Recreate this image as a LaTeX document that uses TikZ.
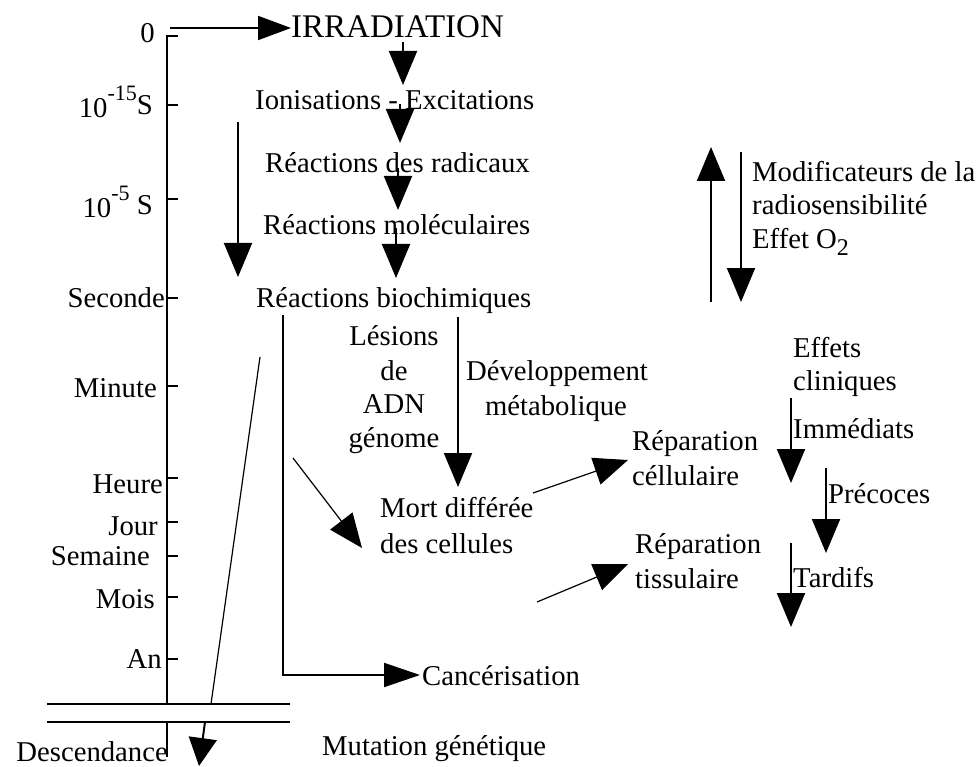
\documentclass[tikz,border=0pt]{standalone}
\usepackage{fontspec}
\setmainfont{Liberation Serif}
\usetikzlibrary{arrows.meta}
\newcommand{\supsm}[1]{\raisebox{17pt}{\fontsize{22}{22}\selectfont #1}}
\begin{document}
\begin{tikzpicture}[x=1pt,y=-1pt,
  lbl/.style={inner sep=0pt, font=\fontsize{28.7}{34}\selectfont},
  lw/.style={lbl, anchor=base west},
  le/.style={lbl, anchor=base east},
  lc/.style={lbl, anchor=base},
  ln/.style={line width=2pt},
  diagline/.style={line width=1.2pt},
  arr/.style={-{Triangle[length=34pt,width=28pt]}, line width=2pt},
  tarr/.style={-{Triangle[length=34pt,width=28pt]}, line width=1.2pt},
]
\useasboundingbox (0,0) rectangle (979,767);

% time axis
\draw[ln] (178,36) -- (167,36) -- (167,704);
\foreach \t in {105,199,298,386,478,522,556,597,659}
  \draw[ln] (167,\t) -- (178,\t);
\draw[ln] (47,704) -- (290,704);
\draw[ln] (47,722) -- (290,722);
\draw[ln] (167,722) -- (167,757);

% axis labels
\node[le] (t0) at (155,43) {0};
\node[le] (t15) at (153,118) {10\supsm{-15}\raisebox{3pt}{S}};
\node[le] (t5) at (153,218) {10\supsm{-5} \raisebox{3pt}{S}};
\node[le] (tsec) at (165,307) {Seconde};
\node[le] (tmin) at (157,397) {Minute};
\node[le] (th) at (163,493) {Heure};
\node[le] (tj) at (158,535) {Jour};
\node[le] (tsem) at (150,565) {Semaine};
\node[le] (tmois) at (155,608) {Mois};
\node[le] (tan) at (162,668) {An};
\node[le] (tdesc) at (168,761) {Descendance};

% main column
\node[lw, font=\fontsize{33}{38}\selectfont] (irr) at (291,38) {IRRADIATION};
\node[lw] (ion) at (255,110) {Ionisations - Excitations};
\node[lw] (rad) at (265,173) {Réactions des radicaux};
\node[lw] (mol) at (263,235) {Réactions moléculaires};
\node[lw] (bio) at (256,307) {Réactions biochimiques};

\node[lc] (les1) at (394,345) {Lésions};
\node[lc] (les2) at (394,380) {de};
\node[lc] (les3) at (394,413) {ADN};
\node[lc] (les4) at (394,447) {génome};
\node[lc] (dev1) at (557,380) {Développement};
\node[lc] (dev2) at (556,415) {métabolique};

\node[lw] (mort1) at (380,517) {Mort différée};
\node[lw] (mort2) at (380,553) {des cellules};
\node[lw] (repc1) at (632,450) {Réparation};
\node[lw] (repc2) at (632,485) {céllulaire};
\node[lw] (rept1) at (635,553) {Réparation};
\node[lw] (rept2) at (635,588) {tissulaire};

\node[lw] (eff1) at (793,357) {Effets};
\node[lw] (eff2) at (793,390) {cliniques};
\node[lw] (imm) at (793,438) {Immédiats};
\node[lw] (prec) at (828,503) {Précoces};
\node[lw] (tard) at (793,587) {Tardifs};

\node[lw] (mod1) at (752,182) {Modificateurs de la};
\node[lw] (mod2) at (752,215) {radiosensibilité};
\node[lw] (mod3) at (752,248) {Effet O\raisebox{-7pt}{\fontsize{24}{24}\selectfont 2}};

\node[lw] (canc) at (422,685) {Cancérisation};
\node[lw] (mut) at (322,755) {Mutation génétique};

% connector end points
\coordinate (a1s) at (170,28);  \coordinate (a1e) at (291,28);
\coordinate (a2s) at (403,42);  \coordinate (a2e) at (403,85);
\coordinate (a3s) at (400,104); \coordinate (a3e) at (400,143);
\coordinate (a4s) at (398,168); \coordinate (a4e) at (398,210);
\coordinate (a5s) at (396,228); \coordinate (a5e) at (396,278);
\coordinate (a6s) at (238,122); \coordinate (a6e) at (238,277);
\coordinate (a7s) at (458,317); \coordinate (a7e) at (458,487);
\coordinate (a8s) at (283,315); \coordinate (a8e) at (420,675);
\coordinate (a9s) at (293,458); \coordinate (a9e) at (362,548);
\coordinate (a10s) at (533,493); \coordinate (a10e) at (628,460);
\coordinate (a11s) at (537,602); \coordinate (a11e) at (628,564);
\coordinate (a12s) at (791,398); \coordinate (a12e) at (791,483);
\coordinate (a13s) at (826,468); \coordinate (a13e) at (826,553);
\coordinate (a14s) at (791,543); \coordinate (a14e) at (791,627);
\coordinate (a15s) at (711,302); \coordinate (a15e) at (711,147);
\coordinate (a16s) at (741,152); \coordinate (a16e) at (741,302);
\coordinate (d1s) at (260,357);  \coordinate (d1e) at (211,704);
\coordinate (d2s) at (205,722);  \coordinate (d2e) at (199,766);

% connectors
\draw[arr, -{Triangle[length=33pt,width=24pt]}] (a1s) -- (a1e);
\draw[arr] (a2s) -- (a2e);
\draw[arr] (a3s) -- (a3e);
\draw[arr] (a4s) -- (a4e);
\draw[arr] (a5s) -- (a5e);
\draw[arr] (a6s) -- (a6e);
\draw[arr] (a7s) -- (a7e);
\draw[arr, -{Triangle[length=36pt,width=24pt]}] (a8s) |- (a8e);
\draw[tarr] (a9s) -- (a9e);
\draw[tarr] (a10s) -- (a10e);
\draw[tarr] (a11s) -- (a11e);
\draw[arr] (a12s) -- (a12e);
\draw[arr] (a13s) -- (a13e);
\draw[arr] (a14s) -- (a14e);
\draw[arr] (a15s) -- (a15e);
\draw[arr] (a16s) -- (a16e);
\draw[diagline] (d1s) -- (d1e);
\draw[arr, -{Triangle[length=28pt,width=28pt]}] (d2s) -- (d2e);
\end{tikzpicture}
\end{document}
